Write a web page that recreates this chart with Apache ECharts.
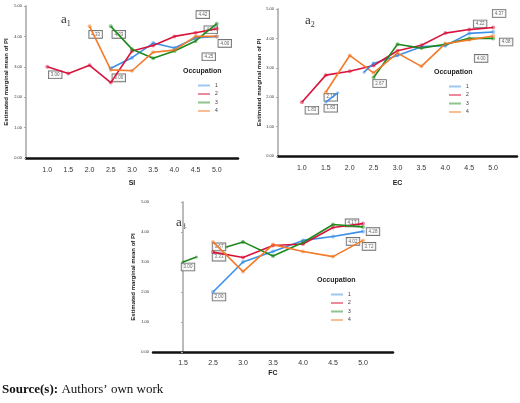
<!DOCTYPE html><html><head><meta charset="utf-8"><script src="https://cdn.jsdelivr.net/npm/echarts@6/dist/echarts.min.js"></script>
<style>body{margin:0;background:#fff}#c{width:520px;height:403px}</style></head><body><div id="c"></div><script>
const xTicksA = [1.0,1.5,2.0,2.5,3.0,3.5,4.0,4.5,5.0];
const fcCats = ['1.5','2.5','3.0','3.5','4.0','4.5','5.0'];
const occ = ['1','2','3','4'];
const colors = ['#3d8fe8','#d9143c','#1e8a1e','#f47a28'];
// a1 (SI)
const si1 = [[2.5,2.95],[3.0,3.3],[3.5,3.78],[4.0,3.62],[4.5,3.95],[5.0,4.0]];
const si2 = [[1.0,3.0],[1.5,2.78],[2.0,3.05],[2.5,2.48],[3.0,3.52],[3.5,3.7],[4.0,4.0],[4.5,4.12],[5.0,4.25]];
const si3 = [[2.5,4.33],[3.0,3.58],[3.5,3.28],[4.0,3.52],[4.5,3.85],[5.0,4.42]];
const si4 = [[2.0,4.33],[2.5,2.9],[3.0,2.87],[3.5,3.48],[4.0,3.55],[4.5,4.0],[5.0,4.0]];
// a2 (EC)
const ec1 = [[2.5,3.15],[3.0,3.42],[3.5,3.72],[4.0,3.75],[4.5,4.17],[5.0,4.22]];
const ec2 = [[1.0,1.83],[1.5,2.75],[2.0,2.88],[2.5,3.08],[3.0,3.58],[3.5,3.77],[4.0,4.18],[4.5,4.3],[5.0,4.37]];
const ec3 = [[2.5,2.67],[3.0,3.8],[3.5,3.67],[4.0,3.8],[4.5,4.0],[5.0,4.0]];
const ec4 = [[1.5,2.17],[2.0,3.42],[2.5,2.83],[3.0,3.5],[3.5,3.05],[4.0,3.82],[4.5,3.95],[5.0,4.08]];
// a3 (FC) x = index into fcCats
const fc1 = [[1,2.0],[2,3.0],[3,3.35],[4,3.72],[5,3.85],[6,4.02]];
const fc2 = [[1,3.33],[2,3.15],[3,3.55],[4,3.6],[5,4.15],[6,4.28]];
const fc3 = [[2,3.67],[3,3.2],[4,3.65],[5,4.25],[6,4.17]];
const fc4 = [[1,3.67],[2,2.68],[3,3.58],[4,3.35],[5,3.18],[6,3.72]];
const fc3stub = [[0,3.0],[0.45,3.17]];
const fc3stub2 = [[1.45,3.5],[2,3.67]];
const ec1stubA = [[1.5,1.83],[1.75,2.15]];
const ec1stubB = [[2.3,2.85],[2.5,3.15]];
// annotations [x, y, text, dx, dy]
const annA = [[1.0,3.0,'3.00',8,8],[2.0,4.33,'4.33',6,8],[2.5,4.33,'4.33',8,8],[2.5,2.9,'3.00',8,8],[5.0,4.42,'4.42',-14,-9],[5.0,4.25,'4.04',-6,1],[5.0,4.25,'4.25',-8,28],[5.0,4.0,'4.00',8,7]];
const annB = [[1.0,1.83,'1.83',10,8],[1.5,2.17,'2.17',5,5],[1.5,1.83,'1.83',5,6],[2.5,2.67,'2.67',6,6],[5.0,4.37,'4.37',6,-14],[5.0,4.22,'4.22',-13,-8],[5.0,4.08,'4.08',13,6],[5.0,4.0,'4.00',-12,20]];
const annC = [[0,3.0,'3.00',5,5],[1,3.67,'3.67',6,5],[1,3.33,'3.33',6,5],[1,2.0,'2.00',6,5],[6,4.17,'4.17',-11,-4],[6,4.28,'4.28',10,8],[6,4.02,'4.02',-10,10],[6,3.72,'3.72',6,6]];

const grids = [{left:26,top:6,width:212,height:152},{left:278,top:9,width:241,height:147},{left:153,top:202,width:240,height:150}];
const yAxis = grids.map((g,i)=>({gridIndex:i,type:'value',min:0,max:5,interval:1,
  name:'Estimated marginal mean of PI',nameLocation:'middle',nameGap:i===1?14:17,nameTextStyle:{fontSize:6,fontWeight:'bold',color:'#222'},
  axisLine:{show:true,lineStyle:{color:'#bbb',width:2}},axisTick:{show:true,length:2,lineStyle:{color:'#aaa'}},splitLine:{show:false},
  axisLabel:{fontSize:4,color:'#333',margin:4,formatter:v=>v.toFixed(2)}}));
const xName=['SI','EC','FC'];
const xAxis = grids.map((g,i)=>({gridIndex:i,type:'value',min:i<2?0.5:-1,max:i<2?5.5:7,interval:i<2?0.5:1,
  name:xName[i],nameLocation:'middle',nameGap:i===0?22:i===1?24:18,nameTextStyle:{fontSize:7,fontWeight:'bold',color:'#222'},
  axisLine:{onZero:false,lineStyle:{color:'#111',width:2.5}},axisTick:{show:false},splitLine:{show:false},
  axisLabel:{fontSize:7,color:'#333',margin:i===2?8:9,formatter:v=>{
    if(i<2){return (v<0.9||v>5.1)?'':v.toFixed(1);} const k=Math.round(v); return (k<0||k>6)?'':fcCats[k];}}}));
const series=[];
function lines(arrs,gi){arrs.forEach((d,j)=>series.push({name:occ[j],type:'line',xAxisIndex:gi,yAxisIndex:gi,data:d,
  lineStyle:{width:1.6,color:colors[j]},itemStyle:{color:colors[j],opacity:0.5},symbol:'circle',symbolSize:4,silent:true}));}
lines([si1,si2,si3,si4],0);lines([ec1,ec2,ec3,ec4],1);lines([fc1,fc2,fc3,fc4],2);
[[fc3stub,2,2],[fc3stub2,2,2],[ec1stubA,1,0],[ec1stubB,1,0]].forEach(([d,gi,c])=>series.push({type:'line',xAxisIndex:gi,yAxisIndex:gi,data:d,symbol:'circle',symbolSize:[3,3],showAllSymbol:true,itemStyle:{color:colors[c],opacity:0.5},lineStyle:{width:1.6,color:colors[c]}}));
function ann(a,gi){series.push({type:'scatter',xAxisIndex:gi,yAxisIndex:gi,symbolSize:0,
  data:a.map(r=>({value:[r[0],r[1]],label:{offset:[r[3],r[4]]}})),
  label:{show:true,position:'inside',formatter:p=>a[p.dataIndex][2],fontSize:4.5,color:'#333',backgroundColor:'#fff',borderColor:'#444',borderWidth:0.8,padding:[1,2]}});}
ann(annA,0);ann(annB,1);ann(annC,2);
const legends=[[193,78],[444,79],[326,287]].map(([l,t])=>({data:occ,orient:'vertical',left:l,top:t,itemWidth:12,itemHeight:2,itemGap:3.5,icon:'rect',textStyle:{fontSize:5,color:'#333'},selectedMode:false}));
const titles=[[183,68],[434,69],[317,277]];
const graphic=[];
titles.forEach(([x,y])=>graphic.push({type:'text',left:x,top:y,style:{text:'Occupation',font:'bold 7px Arial',fill:'#222'}}));
[[61,13,'1'],[305,14,'2'],[176,216,'3']].forEach(([x,y,s])=>graphic.push({type:'text',left:x,top:y,style:{text:'{a|a}{s|'+s+'}',rich:{a:{fontSize:13,fontFamily:'Liberation Serif',fill:'#333'},s:{fontSize:8,fontFamily:'Liberation Serif',fill:'#333',padding:[8,0,0,0]}}}}));
graphic.push({type:'text',left:2,top:383,style:{text:'{b|Source(s):} {n|Authors’ own work}',rich:{b:{font:'bold 13px Liberation Serif',fill:'#111'},n:{font:'13px Liberation Serif',fill:'#111'}}}});
const chart=echarts.init(document.getElementById('c'));
chart.setOption({animation:false,grid:grids,xAxis,yAxis,series,legend:legends,graphic});
</script></body></html>
